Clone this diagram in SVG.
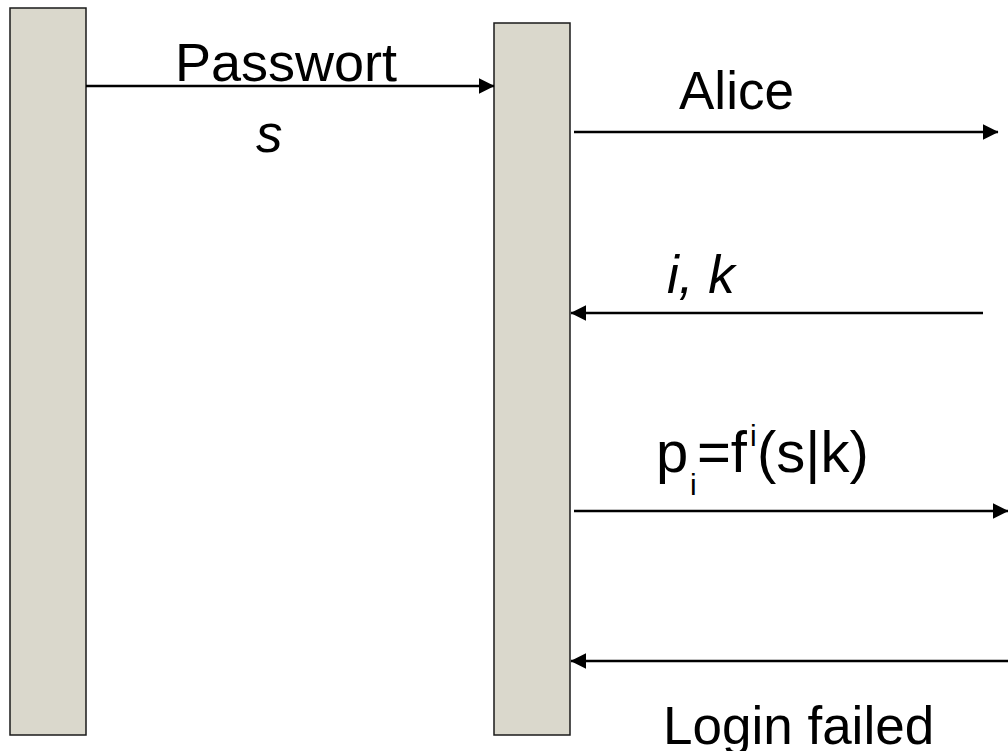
<svg xmlns="http://www.w3.org/2000/svg" width="1008" height="751" viewBox="0 0 1008 751">
  <style>
    .bar { fill: #dad8cc; stroke: #1a1a1a; stroke-width: 1.5; }
    .msg { stroke: #000; stroke-width: 2.6; fill: none; marker-end: url(#head); }
    text { font-family: "Liberation Sans", Arial, sans-serif; font-size: 53px; fill: #000; }
    .it { font-style: italic; }
    .big { font-size: 54px; }
    .formula { font-size: 58px; }
    .small { font-size: 30px; }
  </style>
  <defs>
    <marker id="head" markerWidth="6" markerHeight="6" refX="5.8" refY="3" orient="auto" markerUnits="strokeWidth">
      <path d="M0,0 L6,3 L0,6 Z" fill="#000"/>
    </marker>
  </defs>
  <rect width="1008" height="751" fill="#fff"/>

  <!-- lifelines -->
  <g id="client">
    <rect class="bar" x="10" y="8" width="76" height="727"/>
  </g>
  <g id="token">
    <rect class="bar" x="494" y="23" width="76" height="712"/>
  </g>

  <!-- messages -->
  <g id="connectors">
    <line class="msg" x1="86" y1="86" x2="494" y2="86"/>
    <line class="msg" x1="574" y1="132" x2="998" y2="132"/>
    <line class="msg" x1="983" y1="313" x2="571" y2="313"/>
    <line class="msg" x1="574" y1="511" x2="1008" y2="511"/>
    <line class="msg" x1="1010" y1="661" x2="571" y2="661"/>
  </g>

  <!-- labels -->
  <g id="labels">
    <text class="big" x="175" y="81">Passwort</text>
    <text class="it" x="256" y="152">s</text>
    <text x="679" y="109">Alice</text>
    <text class="it" x="667" y="293">i, k</text>
    <text class="formula" x="656" y="472">p<tspan class="small" x="690" y="495">i</tspan><tspan x="697" y="472">=f</tspan><tspan class="small" x="750" y="446">i</tspan><tspan x="757" y="472">(s|k)</tspan></text>
    <text x="663" y="744">Login failed</text>
  </g>
</svg>
